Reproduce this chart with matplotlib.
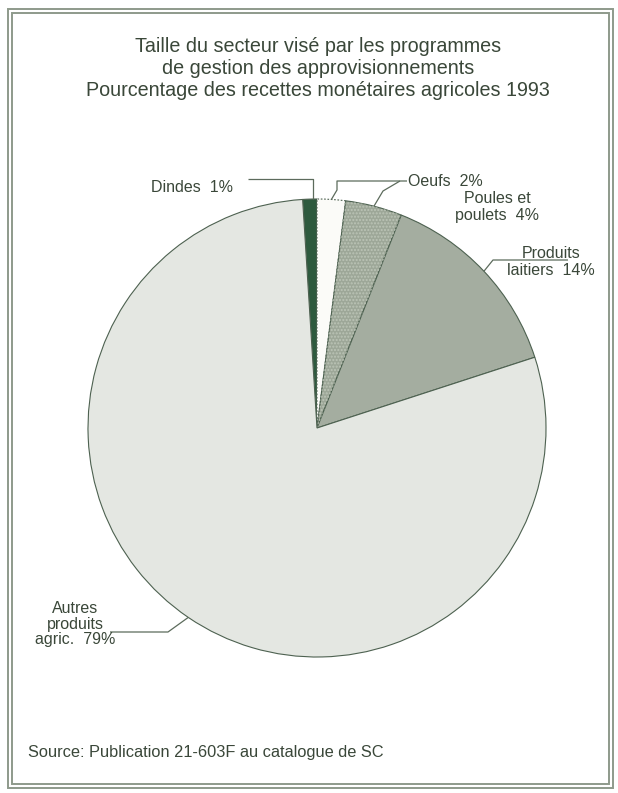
import matplotlib.pyplot as plt
from matplotlib.patches import Rectangle, Wedge
import numpy as np

plt.rcParams['font.family'] = ['Liberation Sans', 'DejaVu Sans']

# share of 1993 farm cash receipts, percent
sectors = ['Dindes', 'Oeufs', 'Poules et poulets', 'Produits laitiers', 'Autres produits agric.']
shares = [1, 2, 4, 14, 79]
labels = ['Dindes  1%', 'Oeufs  2%', 'Poules et\npoulets  4%', 'Produits\nlaitiers  14%',
          'Autres\nproduits\nagric.  79%']
colors = ['#2e5a3e', '#fbfbf8', '#9da798', '#a4ada0', '#e4e7e2']

title = ('Taille du secteur visé par les programmes\n'
         'de gestion des approvisionnements\n'
         'Pourcentage des recettes monétaires agricoles 1993')
source = 'Source: Publication 21-603F au catalogue de SC'

W, H = 618, 793
ink = '#3a4739'
line = '#5c6b5c'

fig = plt.figure(figsize=(W / 100, H / 100), dpi=100)
ax = fig.add_axes([0, 0, 1, 1])


def px(x, y):
    # pixel position measured from the top-left corner
    return x, H - y


cx, cy = px(317, 428)
radius = 229
start = 90 + 360 * shares[0] / sum(shares)
wedges, _ = ax.pie(shares, colors=colors, startangle=start, counterclock=False,
                   center=(cx, cy), radius=radius, frame=True,
                   wedgeprops=dict(edgecolor='#4d6150', linewidth=0.8))
ax.set_xlim(0, W)
ax.set_ylim(0, H)
ax.set_aspect('equal')
ax.axis('off')

# dotted outline on the egg slice, stippling on the poultry slice
wedges[1].set_linestyle((0, (1.5, 1.5)))
w = wedges[2]
ax.add_patch(Wedge(w.center, w.r, w.theta1, w.theta2, facecolor='none',
                   edgecolor='#bcc4b7', hatch='.....', linewidth=0))


def edge_point(wedge):
    mid = np.deg2rad((wedge.theta1 + wedge.theta2) / 2)
    return cx + radius * np.cos(mid), cy + radius * np.sin(mid)


# leader lines: slice edge -> elbows (pixel coords)
leaders = [
    [px(313, 179), px(248, 179)],
    [px(337, 190), px(337, 181), px(407, 181)],
    [px(383, 191), px(400, 181)],
    [px(493, 260), px(568, 260)],
    [px(168, 632), px(110, 632)],
]
for wdg, pts in zip(wedges, leaders):
    ex, ey = edge_point(wdg)
    if wdg is wedges[0]:
        pts = [(pts[0][0], ey)] + pts
        xs, ys = zip(*pts)
    else:
        xs, ys = zip(*([(ex, ey)] + pts))
    ax.plot(xs, ys, color=line, lw=0.9, solid_capstyle='butt')

fs = 11.5
ax.text(*px(192, 187), labels[0], ha='center', va='center', fontsize=fs, color=ink)
ax.text(*px(408, 182), labels[1], ha='left', va='center', fontsize=fs, color=ink)
ax.text(*px(497, 207), labels[2], ha='center', va='center', fontsize=fs, color=ink,
        linespacing=1.1)
ax.text(*px(551, 262), labels[3], ha='center', va='center', fontsize=fs, color=ink,
        linespacing=1.1)
ax.text(*px(75, 624), labels[4], ha='center', va='center', fontsize=fs, color=ink,
        linespacing=1.05)

ax.text(*px(318, 68), title, ha='center', va='center', fontsize=14.2, color=ink,
        linespacing=1.2)
ax.text(*px(28, 752), source, ha='left', va='center', fontsize=11.8, color=ink)

# double frame
for x0, y0, x1, y1 in [(8, 9, 613, 788), (12, 13, 609, 784)]:
    ax.add_patch(Rectangle(px(x0, y1), x1 - x0, y1 - y0, fill=False,
                           edgecolor='#8e9a8b', lw=1.4))

fig.savefig('out.png', dpi=100)
